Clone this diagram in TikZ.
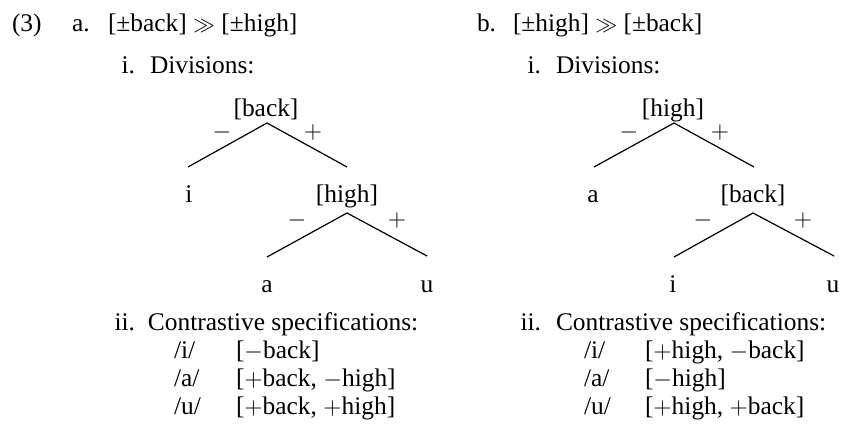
\documentclass[tikz,border=0pt]{standalone}
\usepackage{fontspec}
\setmainfont{Liberation Serif}
\newcommand{\mgg}{{\fontsize{10.5}{12}\selectfont$\gg$}}
\begin{document}
\begin{tikzpicture}[x=0.5pt,y=-0.5pt,
  txt/.style={inner sep=0pt,outer sep=0pt,font=\fontsize{12.7}{15}\selectfont},
  lb/.style={txt,anchor=base west},
  rb/.style={txt,anchor=base east},
  cb/.style={txt,anchor=base},
  sg/.style={txt,anchor=center},
  br/.style={line width=0.6pt}]
\useasboundingbox (0,0) rectangle (842,434);
% headers
\node[lb] (ex) at (12,31) {(3)};
\node[lb] (la) at (72,31) {a.};
\node[lb] (ha) at (108,31) {[±back] \mgg{} [±high]};
\node[lb] (lbb) at (477,31) {b.};
\node[lb] (hb) at (513,31) {[±high] \mgg{} [±back]};
% i. Divisions
\node[rb] (ia) at (135,73) {i.};
\node[lb] (da) at (150,73) {Divisions:};
\node[rb] (ib) at (541,73) {i.};
\node[lb] (db) at (556,73) {Divisions:};
% tree a
\node[cb] (ta1) at (266,116) {[back]};
\node[cb] (ta2) at (189,202) {i};
\node[cb] (ta3) at (347,202) {[high]};
\node[cb] (ta4) at (267,292) {a};
\node[cb] (ta5) at (427,292) {u};
\coordinate (a1) at (267,123);
\coordinate (a1l) at (188,167);
\coordinate (a1r) at (347,167);
\coordinate (a2) at (347,213);
\coordinate (a2l) at (267,257);
\coordinate (a2r) at (427,256);
\draw[br] (a1l) -- (a1) -- (a1r);
\draw[br] (a2l) -- (a2) -- (a2r);
\node[sg] (sa1) at (222,132) {$-$};
\node[sg] (sa2) at (313,132) {$+$};
\node[sg] (sa3) at (297,220) {$-$};
\node[sg] (sa4) at (397,220) {$+$};
% tree b
\node[cb] (tb1) at (673,116) {[high]};
\node[cb] (tb2) at (593,202) {a};
\node[cb] (tb3) at (753,202) {[back]};
\node[cb] (tb4) at (673,292) {i};
\node[cb] (tb5) at (833,292) {u};
\coordinate (b1) at (674,123);
\coordinate (b1l) at (594,167);
\coordinate (b1r) at (754,167);
\coordinate (b2) at (753,213);
\coordinate (b2l) at (674,257);
\coordinate (b2r) at (834,256);
\draw[br] (b1l) -- (b1) -- (b1r);
\draw[br] (b2l) -- (b2) -- (b2r);
\node[sg] (sb1) at (629,132) {$-$};
\node[sg] (sb2) at (720,132) {$+$};
\node[sg] (sb3) at (703,220) {$-$};
\node[sg] (sb4) at (803,220) {$+$};
% ii. Contrastive specifications
\node[rb] (iia) at (135,330) {ii.};
\node[lb] (ca) at (148,330) {Contrastive specifications:};
\node[rb] (iib) at (541,330) {ii.};
\node[lb] (cbb) at (556,330) {Contrastive specifications:};
\node[lb] (pa1) at (174,358) {/i/};
\node[lb] (pa2) at (174,386) {/a/};
\node[lb] (pa3) at (174,414) {/u/};
\node[lb] (fa1) at (236,358) {[$-$back]};
\node[lb] (fa2) at (236,386) {[$+$back, $-$high]};
\node[lb] (fa3) at (236,414) {[$+$back, $+$high]};
\node[lb] (pb1) at (584,358) {/i/};
\node[lb] (pb2) at (584,386) {/a/};
\node[lb] (pb3) at (584,414) {/u/};
\node[lb] (fb1) at (645,358) {[$+$high, $-$back]};
\node[lb] (fb2) at (645,386) {[$-$high]};
\node[lb] (fb3) at (645,414) {[$+$high, $+$back]};
\end{tikzpicture}
\end{document}
